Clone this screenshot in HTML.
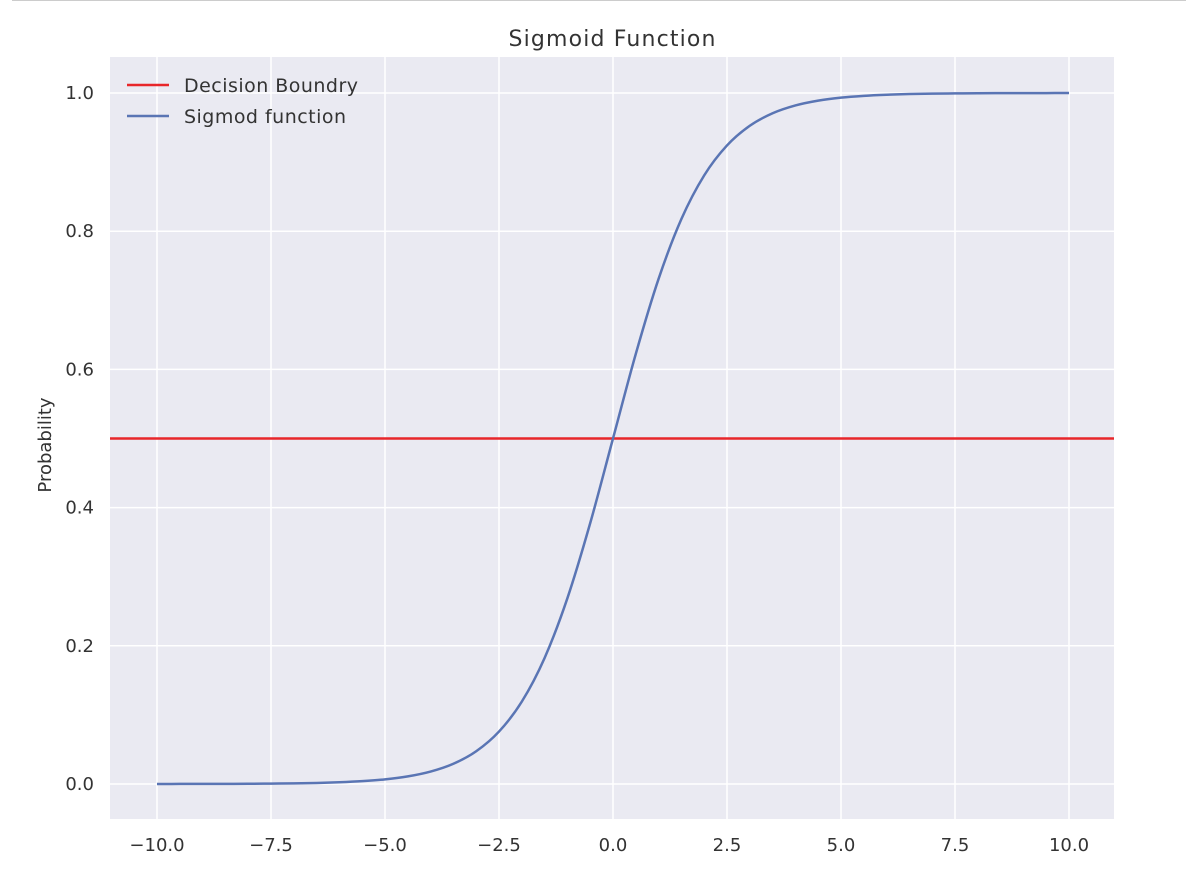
<!DOCTYPE html>
<html><head><meta charset="utf-8"><style>
body{margin:0;background:#fff;}
svg text{font-family:"DejaVu Sans","Liberation Sans",sans-serif;fill:#333;}
</style></head><body>
<svg width="1186" height="878">
<line x1="12" y1="0.5" x2="1186" y2="0.5" stroke="#ccc" stroke-width="1"/>
<rect x="110" y="57" width="1004" height="762" fill="#eaeaf2"/>
<g id="grid"></g>
<g id="ticks"></g>
<g id="series"></g>
<text x="612" y="46" font-size="22" text-anchor="middle" textLength="207">Sigmoid Function</text>
<text x="0" y="0" font-size="18" text-anchor="middle" transform="translate(51,445) rotate(-90)">Probability</text>
<g>
<g>
<line x1="127" y1="85" x2="169" y2="85" stroke="#e8262a" stroke-width="2.5"/>
<text x="184" y="92" font-size="19" textLength="174">Decision Boundry</text></g>
<g>
<line x1="127" y1="116" x2="169" y2="116" stroke="#5a75b4" stroke-width="2.5"/>
<text x="184" y="123" font-size="19" textLength="162">Sigmod function</text></g>
</g>
</svg>
<script>
const xTicks=[-10,-7.5,-5,-2.5,0,2.5,5,7.5,10];
const xTickLabels=["\u221210.0","\u22127.5","\u22125.0","\u22122.5","0.0","2.5","5.0","7.5","10.0"];
const yTicks=[0,0.2,0.4,0.6,0.8,1.0];
const yTickLabels=["0.0","0.2","0.4","0.6","0.8","1.0"];
const boundary=0.5;
const sigX=[-10,-9.5,-9,-8.5,-8,-7.5,-7,-6.5,-6,-5.5,-5,-4.5,-4,-3.5,-3,-2.5,-2,-1.5,-1,-0.5,0,0.5,1,1.5,2,2.5,3,3.5,4,4.5,5,5.5,6,6.5,7,7.5,8,8.5,9,9.5,10];
const sigY=[0.0000,0.0001,0.0001,0.0002,0.0003,0.0006,0.0009,0.0015,0.0025,0.0041,0.0067,0.0110,0.0180,0.0293,0.0474,0.0759,0.1192,0.1824,0.2689,0.3775,0.5,0.6225,0.7311,0.8176,0.8808,0.9241,0.9526,0.9707,0.9820,0.9890,0.9933,0.9959,0.9975,0.9985,0.9991,0.9994,0.9997,0.9998,0.9999,0.9999,1.0000];
const NS="http://www.w3.org/2000/svg";
const sx=v=>157+(v+10)*(1069-157)/20;
const sy=v=>784-v*(784-93);
function mk(t,a,p){const e=document.createElementNS(NS,t);for(const k in a)e.setAttribute(k,a[k]);p.appendChild(e);return e;}
const grid=document.getElementById('grid'),ticks=document.getElementById('ticks'),series=document.getElementById('series');
xTicks.forEach((v,i)=>{
 const l=mk('line',{x1:sx(v),x2:sx(v),y1:57,y2:819,stroke:'#fff','stroke-width':1.5},grid);
 
 
 const t=mk('text',{x:sx(v),y:851,'font-size':18,'text-anchor':'middle'},ticks);
 t.textContent=xTickLabels[i];
 
 
});
yTicks.forEach((v,i)=>{
 const l=mk('line',{x1:110,x2:1114,y1:sy(v),y2:sy(v),stroke:'#fff','stroke-width':1.5},grid);
 
 
 const t=mk('text',{x:94,y:sy(v)+6,'font-size':18,'text-anchor':'end'},ticks);
 t.textContent=yTickLabels[i];
 
 
});
const red=mk('line',{x1:110,x2:1114,y1:sy(boundary),y2:sy(boundary),stroke:'#e8262a','stroke-width':2.5},series);


const P=sigX.map((x,i)=>[sx(x),sy(sigY[i])]);
let d='M'+P[0][0]+','+P[0][1];
for(let i=0;i<P.length-1;i++){
 const p0=P[Math.max(i-1,0)],p1=P[i],p2=P[i+1],p3=P[Math.min(i+2,P.length-1)];
 d+=' C'+(p1[0]+(p2[0]-p0[0])/6)+','+(p1[1]+(p2[1]-p0[1])/6)+' '+(p2[0]-(p3[0]-p1[0])/6)+','+(p2[1]-(p3[1]-p1[1])/6)+' '+p2[0]+','+p2[1];
}
const curve=mk('path',{d:d,fill:'none',stroke:'#5a75b4','stroke-width':2.5},series);


</script>
</body></html>
